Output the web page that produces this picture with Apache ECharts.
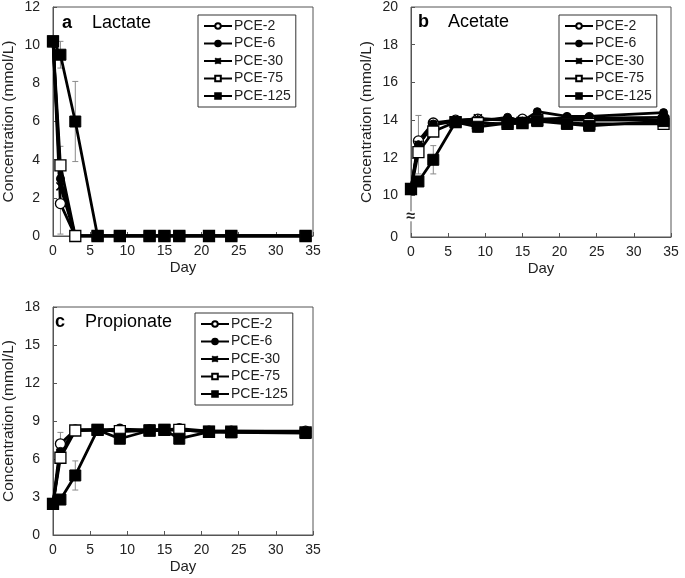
<!DOCTYPE html>
<html>
<head>
<meta charset="utf-8">
<script src="https://cdn.jsdelivr.net/npm/echarts@6/dist/echarts.min.js"></script>
<style>
  html, body { margin: 0; padding: 0; background: #fff; }
  #main { width: 685px; height: 578px; }
</style>
</head>
<body>
<div id="main"></div>
<script>
// sampling days
var days = [0, 1, 3, 6, 9, 13, 15, 17, 21, 24, 34];
var names = ["PCE-2", "PCE-6", "PCE-30", "PCE-75", "PCE-125"];

// a - lactate (mmol/L)
var lac2   = [10.2, 1.7, 0, 0, 0, 0, 0, 0, 0, 0, 0];
var lac6   = [10.2, 3.0, 0, 0, 0, 0, 0, 0, 0, 0, 0];
var lac30  = [10.2, 2.6, 0, 0, 0, 0, 0, 0, 0, 0, 0];
var lac75  = [10.2, 3.7, 0, 0, 0, 0, 0, 0, 0, 0, 0];
var lac125 = [10.2, 9.5, 6.0, 0, 0, 0, 0, 0, 0, 0, 0];
// error (+/-) for lactate
var lacErr2   = [0, 1.6, 0, 0, 0, 0, 0, 0, 0, 0, 0];
var lacErr75  = [0, 1.0, 0, 0, 0, 0, 0, 0, 0, 0, 0];
var lacErr125 = [0, 0.7, 2.1, 0, 0, 0, 0, 0, 0, 0, 0];

// b - acetate
var ace2   = [10.35, 12.9, 13.85, 14.0, 14.05, 14.0, 14.05, 14.05, 14.1, 14.1, 14.15];
var ace6   = [10.35, 12.7, 13.8, 13.95, 13.95, 14.15, 13.95, 14.45, 14.2, 14.2, 14.4];
var ace30  = [10.35, 12.7, 13.75, 13.95, 14.1, 14.0, 13.9, 14.0, 14.0, 14.0, 14.0];
var ace75  = [10.35, 12.3, 13.4, 13.9, 13.85, 13.8, 13.85, 14.0, 13.85, 13.8, 13.8];
var ace125 = [10.35, 10.75, 11.9, 13.9, 13.65, 13.85, 13.85, 13.95, 13.8, 13.7, 13.95];
var aceErr30  = [0, 1.55, 0, 0, 0, 0, 0, 0, 0, 0, 0];
var aceErr125 = [0, 0, 0.75, 0, 0.3, 0, 0, 0, 0, 0, 0.25];

// c - propionate
var pro2   = [2.45, 7.2, 8.3, 8.3, 8.35, 8.3, 8.3, 8.4, 8.2, 8.2, 8.2];
var pro6   = [2.45, 6.6, 8.3, 8.3, 8.2, 8.3, 8.3, 8.3, 8.2, 8.2, 8.15];
var pro30  = [2.45, 6.5, 8.25, 8.3, 8.2, 8.25, 8.3, 8.3, 8.15, 8.15, 8.1];
var pro75  = [2.45, 6.1, 8.25, 8.3, 8.2, 8.25, 8.3, 8.3, 8.15, 8.15, 8.1];
var pro125 = [2.45, 2.8, 4.7, 8.3, 7.6, 8.25, 8.3, 7.6, 8.15, 8.1, 8.05];
var proErr2   = [0, 0.9, 0, 0, 0, 0, 0, 0, 0, 0, 0];
var proErr125 = [0, 0, 1.15, 0, 0.3, 0, 0, 0.3, 0, 0, 0];

var FONT = 'Arial, "Liberation Sans", sans-serif';

// marker style per series
var marks = {
  "PCE-2":   { symbol: "circle", symbolSize: 10, itemStyle: { color: "#fff", borderColor: "#000", borderWidth: 1.3 } },
  "PCE-6":   { symbol: "circle", symbolSize: 8,  itemStyle: { color: "#000", borderColor: "#000", borderWidth: 1 } },
  "PCE-30":  { symbol: "path://M0,0L10,10M10,0L0,10M5,0L5,10", symbolSize: 8, itemStyle: { color: "#000", borderColor: "#000", borderWidth: 1.5 } },
  "PCE-75":  { symbol: "rect", symbolSize: 11, itemStyle: { color: "#fff", borderColor: "#000", borderWidth: 1.3 } },
  "PCE-125": { symbol: "rect", symbolSize: 11, itemStyle: { color: "#000", borderColor: "#000", borderWidth: 1 } }
};

function lineSeries(name, idx, vals) {
  var m = marks[name];
  return {
    name: name, type: "line", xAxisIndex: idx, yAxisIndex: idx,
    data: days.map(function (d, i) { return [d, vals[i]]; }),
    symbol: m.symbol, symbolSize: m.symbolSize, showAllSymbol: true,
    itemStyle: m.itemStyle,
    lineStyle: { color: "#000", width: 2.8 },
    z: 3, animation: false
  };
}

function errSeries(idx, pairs) {
  var data = [];
  pairs.forEach(function (p) {
    var vals = p[0], err = p[1];
    days.forEach(function (d, i) {
      if (err[i] > 0) data.push([d, vals[i] - err[i], vals[i] + err[i]]);
    });
  });
  return {
    type: "custom", name: "err" + idx, xAxisIndex: idx, yAxisIndex: idx, z: 2,
    data: data, animation: false, silent: true,
    renderItem: function (params, api) {
      var lo = api.coord([api.value(0), api.value(1)]);
      var hi = api.coord([api.value(0), api.value(2)]);
      var w = 3;
      var st = { stroke: "#8a8a8a", lineWidth: 1 };
      return {
        type: "group",
        children: [
          { type: "line", shape: { x1: lo[0], y1: lo[1], x2: hi[0], y2: hi[1] }, style: st },
          { type: "line", shape: { x1: lo[0] - w, y1: lo[1], x2: lo[0] + w, y2: lo[1] }, style: st },
          { type: "line", shape: { x1: hi[0] - w, y1: hi[1], x2: hi[0] + w, y2: hi[1] }, style: st }
        ]
      };
    }
  };
}

function xAx(idx) {
  return {
    type: "value", gridIndex: idx, min: 0, max: 35, interval: 5,
    name: "Day", nameLocation: "middle", nameGap: 24,
    nameTextStyle: { fontFamily: FONT, fontSize: 15, color: "#222" },
    axisLine: { show: true, lineStyle: { color: "#555", width: 1 } },
    axisTick: { show: true, inside: true, length: 4, lineStyle: { color: "#555" } },
    axisLabel: { fontFamily: FONT, fontSize: 14, color: "#222", margin: 8 },
    splitLine: { show: false }
  };
}

function yAx(idx, min, max, interval) {
  return {
    type: "value", gridIndex: idx, min: min, max: max, interval: interval,
    name: "Concentration (mmol/L)", nameLocation: "middle", nameGap: 36,
    nameTextStyle: { fontFamily: FONT, fontSize: 15.5, color: "#222" },
    axisLine: { show: true, lineStyle: { color: "#555", width: 1 } },
    axisTick: { show: true, inside: true, length: 4, lineStyle: { color: "#555" } },
    axisLabel: { fontFamily: FONT, fontSize: 14, color: "#222", margin: 13 },
    splitLine: { show: false }
  };
}

function legendAt(left, top) {
  return {
    orient: "vertical", left: left, top: top, data: names,
    itemWidth: 28, itemHeight: 7, itemGap: 3.5,
    padding: [4, 5, 4, 5],
    borderColor: "#333", borderWidth: 1, backgroundColor: "#fff",
    textStyle: { fontFamily: FONT, fontSize: 14, color: "#222", padding: [0, 0, 0, -3] },
    selectedMode: false
  };
}

function titleAt(left, top, letter, word) {
  return {
    left: left, top: top, padding: 0,
    text: "{b|" + letter + "}{n|" + word + "}",
    textStyle: {
      rich: {
        b: { fontFamily: FONT, fontSize: 18, fontWeight: "bold", color: "#000", width: 30 },
        n: { fontFamily: FONT, fontSize: 18, fontWeight: "normal", color: "#000" }
      }
    }
  };
}

var gridStyle = { show: true, borderColor: "#555", borderWidth: 1, backgroundColor: "transparent" };

var yB = yAx(1, 0, 20, 2);
yB.breaks = [{ start: 0, end: 10, gap: "18%" }];
yB.breakArea = { show: false };

var chart = echarts.init(document.getElementById("main"));
var option = {
  backgroundColor: "#fff",
  animation: false,
  grid: [
    Object.assign({ left: 50, top: 6, width: 263, height: 230 }, gridStyle),
    Object.assign({ left: 411, top: 7, width: 260, height: 230 }, gridStyle),
    Object.assign({ left: 48, top: 307, width: 265, height: 228 }, gridStyle)
  ],
  title: [
    titleAt(62, 14, "a", "Lactate"),
    titleAt(418, 13, "b", "Acetate"),
    titleAt(55, 313, "c", "Propionate")
  ],
  legend: [legendAt(198, 15), legendAt(559, 15), legendAt(195, 313)],
  xAxis: [xAx(0), xAx(1), xAx(2)],
  yAxis: [yAx(0, 0, 12, 2), yB, yAx(2, 0, 18, 3)],
  series: [
    errSeries(0, [[lac2, lacErr2], [lac75, lacErr75], [lac125, lacErr125]]),
    errSeries(1, [[ace30, aceErr30], [ace125, aceErr125]]),
    errSeries(2, [[pro2, proErr2], [pro125, proErr125]]),
    lineSeries("PCE-2", 0, lac2), lineSeries("PCE-6", 0, lac6), lineSeries("PCE-30", 0, lac30),
    lineSeries("PCE-75", 0, lac75), lineSeries("PCE-125", 0, lac125),
    lineSeries("PCE-2", 1, ace2), lineSeries("PCE-6", 1, ace6), lineSeries("PCE-30", 1, ace30),
    lineSeries("PCE-75", 1, ace75), lineSeries("PCE-125", 1, ace125),
    lineSeries("PCE-2", 2, pro2), lineSeries("PCE-6", 2, pro6), lineSeries("PCE-30", 2, pro30),
    lineSeries("PCE-75", 2, pro75), lineSeries("PCE-125", 2, pro125)
  ]
};
chart.setOption(option);

// break mark on the acetate axis, halfway between 0 and 10
var p0 = chart.convertToPixel({ gridIndex: 1 }, [0, 0]);
var p10 = chart.convertToPixel({ gridIndex: 1 }, [0, 10]);
if (p0 && p10) {
  var midY = (p0[1] + p10[1]) / 2;
  chart.setOption({
    graphic: [
      { type: "rect", shape: { x: p0[0] - 4, y: midY - 5, width: 8, height: 10 }, style: { fill: "#fff" }, z: 100 },
      { type: "text", x: p0[0], y: midY, z: 101,
        style: { text: "≈", font: "bold 16px " + FONT, fill: "#222", align: "center", verticalAlign: "middle" } }
    ]
  });
}
</script>
</body>
</html>
